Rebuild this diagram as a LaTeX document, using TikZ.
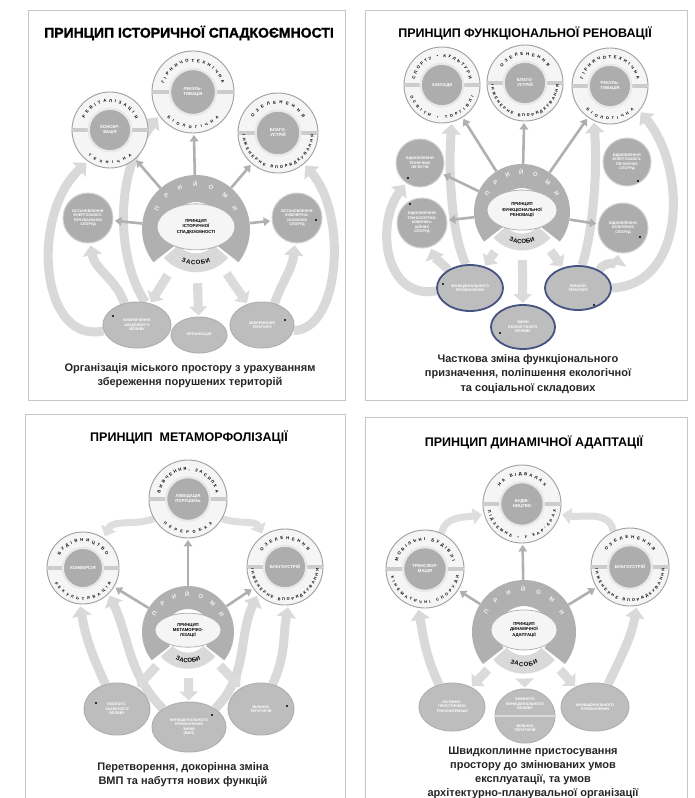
\documentclass[tikz,border=0pt]{standalone}
\usepackage{fontspec}
\setmainfont{Liberation Sans}
\newfontfamily\heavyf{Liberation Sans}[FakeBold=1.5]
\usetikzlibrary{shapes.geometric,arrows.meta,decorations.text}
\pgfdeclarelayer{back}
\pgfdeclarelayer{bg}
\pgfsetlayers{back,bg,main}
\definecolor{slateb}{RGB}{70,82,130}
\newcommand\xIn{\fontsize{4.3}{5}\selectfont\bfseries}
\newcommand\xSm{\fontsize{3.7}{4.5}\selectfont\bfseries}
\newcommand\xHub{\fontsize{4.3}{5.2}\selectfont\bfseries}
\newcommand\xRt{\fontsize{4.2}{5}\selectfont\bfseries}
\newcommand\xRb{\fontsize{3.9}{5}\selectfont\bfseries}
\newcommand\xPr{\fontsize{6}{6}\selectfont\bfseries}
\newcommand\xZa{\fontsize{6}{6}\selectfont\bfseries}
\newcommand\xCap{\fontsize{11}{14.2}\selectfont\bfseries}
\newcommand\xTtl{\fontsize{12.5}{13}\selectfont\bfseries}
\newcommand\xTtlH{\fontsize{14}{14}\selectfont\heavyf\bfseries}
% ring circle: name, x, y, r, inner text, top text, top half-span, bottom text, bottom half-span
\newcommand\ringcirc[9]{%
\begin{scope}[shift={(#2,#3)}]
\node[ringout, minimum size={2*#4pt}] (#1) at (0,0) {};
\fill[gray!40] ({-#4+0.6},-2.4) rectangle ({-0.58*#4},2.4);
\fill[gray!40] ({#4-0.6},-2.4) rectangle ({0.58*#4},2.4);
\node[ringin, minimum size={1.12*#4pt}] (#1-in) at (0,0) {#5};
\path[decorate, decoration={text along path, text align={fit to path}, text={|\xRt|#6}}] ({90+#7}:{0.73*#4}) arc ({90+#7}:{90-#7}:{0.73*#4});
\path[decorate, decoration={text along path, text align={fit to path}, text={|\xRb|#8}}] ({270-#9}:{0.89*#4}) arc ({270-#9}:{270+#9}:{0.89*#4});
\end{scope}}
% hub: name, x, y, R, ellipse width, ellipse height, text
\newcommand\hubunit[7]{%
\begin{scope}[shift={(#2,#3)}]
\node[circle, minimum size={2*#4pt}, inner sep=0pt] (#1-o) at (0,0) {};
\fill[gray!62] (-38:#4) arc (-38:218:#4) -- (218:{0.5*#4}) arc (218:-38:{0.5*#4}) -- cycle;
\fill[gray!30] (222:{0.8*#4}) arc (222:318:{0.8*#4}) -- (318:{0.45*#4}) arc (318:222:{0.45*#4}) -- cycle;
\path[decorate, decoration={text along path, text align={fit to path}, text color=gray!10, text={|\xPr|ПРИЙОМИ}}] (155:{0.78*#4}) arc (155:25:{0.78*#4});
\path[decorate, decoration={text along path, text align={fit to path}, text={|\xZa|ЗАСОБИ}}] (246:{0.66*#4}) arc (246:294:{0.66*#4});
\node[hubell, minimum width={#5pt}, minimum height={#6pt}] (#1) at (0,{0.04*#4}) {#7};
\end{scope}}
\begin{document}
\begin{tikzpicture}[x=1pt,y=1pt,
 panel/.style={draw=gray!45, line width=0.7pt},
 ringout/.style={circle, draw=gray!75, line width=0.9pt, fill=gray!8, inner sep=0pt},
 ringin/.style={circle, draw=gray!18, line width=2.2pt, fill=gray!64, text=white, font=\xIn, align=center, inner sep=0pt},
 sidec/.style={circle, draw=gray!35, line width=1pt, fill=gray!64, text=white, font=\xSm, align=center, inner sep=0pt},
 botell/.style={ellipse, draw=gray!62, line width=1pt, fill=gray!52, text=white, font=\xSm, align=center, inner sep=0pt},
 blueell/.style={botell, draw=slateb, line width=1.8pt},
 hubell/.style={ellipse, draw=gray!60, line width=0.8pt, fill=gray!8, font=\xHub, align=center, inner sep=0pt},
 hubarrow/.style={draw=gray!62, line width=2.6pt, -{Triangle[length=6.5pt,width=8.5pt]}, shorten >=1.5pt},
 bigarrow/.style={draw=gray!30, line width=9pt, -{Triangle[length=10pt,width=19pt]}, shorten >=2pt},
 downarrow/.style={draw=gray!28, line width=9pt, -{Triangle[length=9pt,width=18pt]}, shorten >=1pt},
 linkarrow/.style={draw=gray!26, line width=7pt, -{Triangle[length=9pt,width=16pt]}, shorten >=2pt},
 capt/.style={font=\xCap, align=center, text=black!85},
 ttl/.style={font=\xTtl, text=black},
 dotn/.style={circle, fill=black, inner sep=0pt, minimum size=2.4pt}]
\useasboundingbox (0,0) rectangle (694,-798);
\begin{pgfonlayer}{back}
\fill[white] (0,0) rectangle (694,-798);
\draw[panel] (28,-10) rectangle (345,-400);
\draw[panel] (365,-10) rectangle (687,-400);
\draw[panel] (25,-414) rectangle (345,-800);
\draw[panel] (365,-417) rectangle (687,-800);
\end{pgfonlayer}

% ================= TOP LEFT =================
\node[font=\xTtlH] (tl-title) at (189,-33) {ПРИНЦИП ІСТОРИЧНОЇ СПАДКОЄМНОСТІ};
\ringcirc{tl-top}{193}{-92}{41}{РЕКУЛЬ-\\ТИВАЦІЯ}{ГІРНИЧОТЕХНІЧНА}{74}{БІОЛОГІЧНА}{45}
\ringcirc{tl-left}{110}{-130}{38}{КОНСЕР-\\ВАЦІЯ}{РЕВІТАЛІЗАЦІЯ}{66}{ТЕХНІЧНА}{40}
\ringcirc{tl-right}{278}{-133}{40}{БЛАГО-\\УСТРІЙ}{ОЗЕЛЕНЕННЯ}{58}{ІНЖЕНЕРНЕ ВПОРЯДКУВАННЯ}{87}
\hubunit{tl-hub}{196}{-229}{54}{78}{46}{ПРИНЦИП\\ІСТОРИЧНОЇ\\СПАДКОЄМНОСТІ}
\node[sidec, minimum size=50pt] (tl-sl) at (88,-218) {ВСТАНОВЛЕННЯ\\ЕНЕРГОЗАБЕЗ-\\ПЕЧУВАЛЬНИХ\\СПОРУД};
\node[sidec, minimum size=50pt] (tl-sr) at (297,-218) {ВСТАНОВЛЕННЯ\\ІНЖЕНЕРНО-\\ЗАХИСНИХ\\СПОРУД};
\node[botell, minimum width=68pt, minimum height=46pt] (tl-e1) at (137,-325) {ВИКЛЮЧЕННЯ\\ШКІДЛИВОГО\\ВПЛИВУ};
\node[botell, minimum width=64pt, minimum height=46pt] (tl-e3) at (262,-325) {ЗБЕРЕЖЕННЯ\\ТЕРИТОРІЇ};
\node[botell, minimum width=56pt, minimum height=36pt] (tl-e2) at (199,-335) {ОРГАНІЗАЦІЯ};
\node[dotn] (tl-d1) at (113,-316) {};
\node[dotn] (tl-d2) at (285,-320) {};
\node[dotn] (tl-d3) at (316,-220) {};
\node[capt] (tl-cap) at (190,-376) {Організація міського простору з урахуванням\\збереження порушених територій};
\begin{pgfonlayer}{bg}
\draw[bigarrow] (tl-e1.120) to[out=110,in=-80] (tl-sl.-85);
\draw[bigarrow] (tl-e1.190) .. controls (40,-345) and (30,-215) .. (tl-left.235);
\draw[bigarrow] (tl-e1.70) .. controls (118,-262) and (112,-175) .. (tl-top.215);
\draw[bigarrow] (tl-e3.60) to[out=70,in=-95] (tl-sr.-95);
\draw[bigarrow] (tl-e3.-10) .. controls (340,-330) and (348,-215) .. (tl-right.-50);
\draw[downarrow] (tl-hub-o) -- (tl-e1);
\draw[downarrow] (tl-hub-o) -- (tl-e2);
\draw[downarrow] (tl-hub-o) -- (tl-e3);
\draw[hubarrow] (tl-hub-o) -- (tl-top);
\draw[hubarrow] (tl-hub-o) -- (tl-left);
\draw[hubarrow] (tl-hub-o) -- (tl-right);
\draw[hubarrow] (tl-hub-o) -- (tl-sl);
\draw[hubarrow] (tl-hub-o) -- (tl-sr);
\end{pgfonlayer}

% ================= TOP RIGHT =================
\node[ttl] (tr-title) at (525,-33) {ПРИНЦИП ФУНКЦІОНАЛЬНОЇ РЕНОВАЦІЇ};
\ringcirc{tr-c1}{442}{-85}{38}{ЗАКЛАДИ}{СПОРТУ • КУЛЬТУРИ}{78}{ОСВІТИ • ТОРГІВЛІ}{70}
\ringcirc{tr-c2}{525}{-83}{38}{БЛАГО-\\УСТРІЙ}{ОЗЕЛЕНЕННЯ}{55}{ІНЖЕНЕРНЕ ВПОРЯДКУВАННЯ}{87}
\ringcirc{tr-c3}{610}{-86}{38}{РЕКУЛЬ-\\ТИВАЦІЯ}{ГІРНИЧОТЕХНІЧНА}{76}{БІОЛОГІЧНА}{45}
\hubunit{tr-hub}{522}{-212}{48}{70}{40}{ПРИНЦИП\\ФУНКЦІОНАЛЬНОЇ\\РЕНОВАЦІЇ}
\node[sidec, minimum size=48pt] (tr-s1) at (420,-163) {ВІДНОВЛЕННЯ\\ТЕХНІЧНИХ\\ОБ'ЄКТІВ};
\node[sidec, minimum size=50pt] (tr-s2) at (422,-223) {ВІДНОВЛЕННЯ\\ТРАНСПОРТНО-\\КОМУНІКА-\\ЦІЙНИХ\\СПОРУД};
\node[sidec, minimum size=48pt] (tr-s3) at (627,-162) {ВІДНОВЛЕННЯ\\ЕНЕРГОЗАБЕЗ-\\ПЕЧУЮЧИХ\\СПОРУД};
\node[sidec, minimum size=50pt] (tr-s4) at (623,-228) {ВІДНОВЛЕННЯ\\КУЛЬТОВИХ\\СПОРУД};
\node[blueell, minimum width=66pt, minimum height=46pt] (tr-e1) at (470,-288) {ФУНКЦІОНАЛЬНОГО\\ПРИЗНАЧЕННЯ};
\node[blueell, minimum width=66pt, minimum height=44pt] (tr-e3) at (578,-288) {ВІЛЬНОЇ\\ТЕРИТОРІЇ};
\node[blueell, minimum width=64pt, minimum height=44pt] (tr-e2) at (523,-327) {ЗМІНИ\\ЕКОЛОГІЧНОГО\\ВПЛИВУ};
\node[dotn] (tr-d1) at (443,-284) {};
\node[dotn] (tr-d2) at (500,-333) {};
\node[dotn] (tr-d3) at (594,-305) {};
\node[dotn] (tr-d4) at (408,-178) {};
\node[dotn] (tr-d5) at (410,-204) {};
\node[dotn] (tr-d6) at (638,-181) {};
\node[dotn] (tr-d7) at (640,-237) {};
\node[capt] (tr-cap) at (528,-374) {Часткова зміна функціонального\\призначення, поліпшення екологічної\\та соціальної складових};
\begin{pgfonlayer}{bg}
\draw[bigarrow] (tr-e1.185) .. controls (385,-300) and (375,-225) .. (tr-s1.235);
\draw[bigarrow] (tr-e1.140) to[out=135,in=-70] (tr-s2.-70);
\draw[bigarrow] (tr-e1.100) .. controls (452,-235) and (448,-175) .. (tr-c1.-75);
\draw[bigarrow] (tr-e3.80) .. controls (592,-235) and (598,-175) .. (tr-c3.-115);
\draw[bigarrow] (tr-e3.0) .. controls (685,-285) and (688,-170) .. (tr-c3.-40);
\draw[bigarrow] (tr-e3.40) to[out=60,in=-100] (tr-s4.-100);
\draw[downarrow] (tr-hub-o) -- (tr-e1);
\draw[downarrow] (tr-hub-o) -- (tr-e2);
\draw[downarrow] (tr-hub-o) -- (tr-e3);
\draw[hubarrow] (tr-hub-o) -- (tr-c1);
\draw[hubarrow] (tr-hub-o) -- (tr-c2);
\draw[hubarrow] (tr-hub-o) -- (tr-c3);
\draw[hubarrow] (tr-hub-o) -- (tr-s1);
\draw[hubarrow] (tr-hub-o) -- (tr-s2);
\draw[hubarrow] (tr-hub-o) -- (tr-s4);
\end{pgfonlayer}

% ================= BOTTOM LEFT =================
\node[ttl] (bl-title) at (189,-437) {ПРИНЦИП\ \ МЕТАМОРФОЛІЗАЦІЇ};
\ringcirc{bl-top}{188}{-499}{39}{ЛІКВІДАЦІЯ\\ПОРУШЕНЬ}{ВИВЧЕННЯ, ЗАСИПКА}{78}{ПЕРЕРОБКА}{45}
\ringcirc{bl-left}{83}{-568}{36}{КОНВЕРСІЯ}{БУДІВНИЦТВО}{62}{РЕКУЛЬТИВАЦІЯ}{62}
\ringcirc{bl-right}{285}{-567}{38}{БЛАГОУСТРІЙ}{ОЗЕЛЕНЕННЯ}{55}{ІНЖЕНЕРНЕ ВПОРЯДКУВАННЯ}{87}
\hubunit{bl-hub}{188}{-632}{46}{66}{34}{ПРИНЦИП\\МЕТАМОРФО-\\ЛІЗАЦІЇ}
\node[botell, minimum width=66pt, minimum height=52pt] (bl-e1) at (117,-709) {ЕКОЛОГО-\\ЗАХИСНОГО\\ВПЛИВУ};
\node[botell, minimum width=66pt, minimum height=52pt] (bl-e3) at (261,-709) {ВІЛЬНИХ\\ТЕРИТОРІЙ};
\node[botell, minimum width=74pt, minimum height=50pt] (bl-e2) at (189,-727) {ФУНКЦІОНАЛЬНОГО\\ПРИЗНАЧЕННЯ\\ЗМІНИ\\(ВМП)};
\node[dotn] (bl-d1) at (96,-703) {};
\node[dotn] (bl-d2) at (212,-715) {};
\node[dotn] (bl-d3) at (287,-706) {};
\node[capt] (bl-cap) at (183,-775) {Перетворення, докорінна зміна\\ВМП та набуття нових функцій};
\begin{pgfonlayer}{bg}
\draw[linkarrow] (bl-top.210) to[out=200,in=65] (bl-left.55);
\draw[linkarrow] (bl-top.-30) to[out=-20,in=115] (bl-right.125);
\draw[bigarrow] (bl-e1.115) to[out=115,in=-80] (bl-left.-95);
\draw[bigarrow] (bl-e2.145) to[out=135,in=-65] (bl-left.-45);
\draw[bigarrow] (bl-e2.35) to[out=45,in=-115] (bl-right.-135);
\draw[bigarrow] (bl-e3.65) to[out=65,in=-100] (bl-right.-85);
\draw[downarrow] (bl-hub-o) -- (bl-e1);
\draw[downarrow] (bl-hub-o) -- (bl-e2);
\draw[downarrow] (bl-hub-o) -- (bl-e3);
\draw[hubarrow] (bl-hub-o) -- (bl-top);
\draw[hubarrow] (bl-hub-o) -- (bl-left);
\draw[hubarrow] (bl-hub-o) -- (bl-right);
\end{pgfonlayer}

% ================= BOTTOM RIGHT =================
\node[ttl] (br-title) at (534,-442) {ПРИНЦИП ДИНАМІЧНОЇ АДАПТАЦІЇ};
\ringcirc{br-top}{522}{-504}{39}{БУДІВ-\\НИЦТВО}{НА ВІДВАЛАХ}{52}{ПІДЗЕМНЕ • У КАР'ЄРАХ}{80}
\ringcirc{br-left}{425}{-569}{39}{ТРАНСФОР-\\МАЦІЯ}{МОБІЛЬНІ БУДІВЛІ}{74}{КІНЕМАТИЧНІ СПОРУДИ}{78}
\ringcirc{br-right}{630}{-567}{39}{БЛАГОУСТРІЙ}{ОЗЕЛЕНЕННЯ}{55}{ІНЖЕНЕРНЕ ВПОРЯДКУВАННЯ}{87}
\hubunit{br-hub}{524}{-632}{52}{66}{40}{ПРИНЦИП\\ДИНАМІЧНОЇ\\АДАПТАЦІЇ}
\node[botell, minimum width=66pt, minimum height=48pt] (br-e1) at (452,-707) {ОБ'ЄМНО-\\ПРОСТОРОВОЇ\\ТРАНСФОРМАЦІЇ};
\node[botell, minimum width=68pt, minimum height=48pt] (br-e3) at (595,-707) {ФУНКЦІОНАЛЬНОГО\\ПРИЗНАЧЕННЯ};
\node[botell, minimum width=60pt, minimum height=54pt] (br-e2) at (525,-716) {};
\draw[gray!30, line width=2pt] (br-e2.west) -- (br-e2.east);
\node[font=\xSm, text=white, align=center] (br-e2a) at (525,-704) {ЗМІННОГО\\ФУНКЦІОНАЛЬНОГО\\ВПЛИВУ};
\node[font=\xSm, text=white, align=center] (br-e2b) at (525,-728) {ВІЛЬНИХ\\ТЕРИТОРІЙ};
\node[capt] (br-cap) at (533,-773) {Швидкоплинне пристосування\\простору до змінюваних умов\\експлуатації, та умов\\архітектурно-планувальної організації};
\begin{pgfonlayer}{bg}
\draw[linkarrow] (br-left.65) to[out=80,in=190] (br-top.195);
\draw[linkarrow] (br-right.115) to[out=100,in=-10] (br-top.-15);
\draw[bigarrow] (br-e1.120) to[out=115,in=-80] (br-left.-100);
\draw[bigarrow] (br-e3.60) to[out=65,in=-100] (br-right.-80);
\draw[downarrow] (br-hub-o) -- (br-e1);
\draw[downarrow] (br-hub-o) -- (br-e2);
\draw[downarrow] (br-hub-o) -- (br-e3);
\draw[hubarrow] (br-hub-o) -- (br-top);
\draw[hubarrow] (br-hub-o) -- (br-left);
\draw[hubarrow] (br-hub-o) -- (br-right);
\end{pgfonlayer}
\end{tikzpicture}
\end{document}
